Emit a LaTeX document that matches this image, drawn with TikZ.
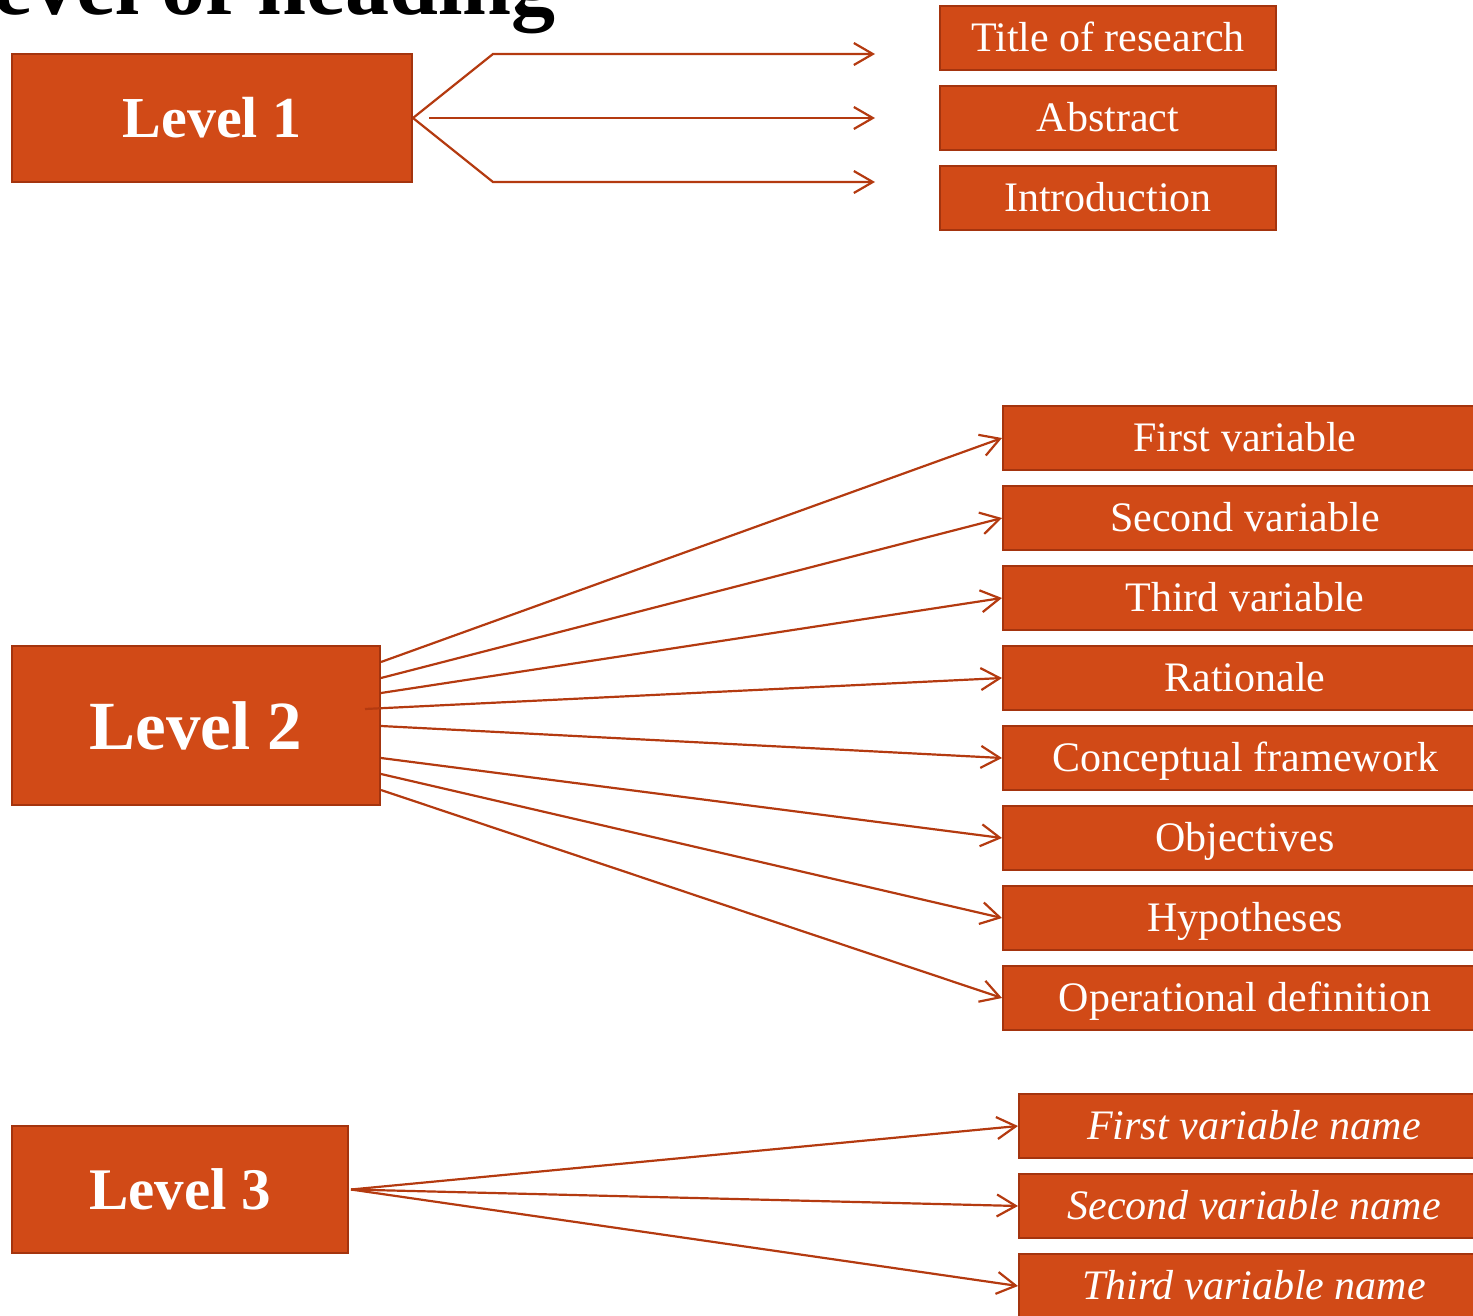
\documentclass[tikz,border=0pt]{standalone}
\usepackage{fontspec}
\setmainfont{Liberation Serif}
\usetikzlibrary{arrows.meta}

\definecolor{boxfill}{HTML}{D14A17}
\definecolor{boxedge}{HTML}{A4340E}
\definecolor{linecol}{HTML}{B43A10}

\begin{document}
\begin{tikzpicture}[x=1pt, y=-1pt,
  levelbox/.style={draw=boxedge, line width=2pt, fill=boxfill, text=white,
    font=\bfseries\fontsize{58}{60}\selectfont, inner sep=0pt},
  itembox/.style={draw=boxedge, line width=2pt, fill=boxfill, text=white,
    font=\fontsize{42}{44}\selectfont, minimum height=64pt, inner sep=0pt,
    text depth=3pt},
  arr/.style={draw=linecol, line width=2.2pt,
    -{Straight Barb[length=19pt, width=22pt, line width=2.2pt]}}]

  % Page frame
  \useasboundingbox (0,0) rectangle (1473,1316);
  \clip (0,0) rectangle (1473,1316);

  % Heading, cut at the top edge
  \node[anchor=base east, font=\bfseries\fontsize{88}{90}\selectfont] (heading) at (559,15) {Level of heading};

  % Level 1 and its items
  \node[levelbox, minimum width=400pt, minimum height=128pt] (lv1) at (212,118) {Level 1};
  \node[itembox, minimum width=336pt] (tor) at (1108,38) {Title of research};
  \node[itembox, minimum width=336pt] (abs) at (1108,118) {Abstract};
  \node[itembox, minimum width=336pt] (intro) at (1108,198) {Introduction};

  \coordinate (t1) at (875,54);
  \coordinate (t2) at (875,118);
  \coordinate (t3) at (875,182);
  \draw[arr] (lv1.east) -- ++(80,-64) -- (t1);
  \draw[arr] ([xshift=16pt]lv1.east) -- (t2);
  \draw[arr] (lv1.east) -- ++(80,64) -- (t3);

  % Level 2 and its items
  \node[levelbox, font=\bfseries\fontsize{69}{71}\selectfont, minimum width=368pt, minimum height=159pt] (lv2) at (196,725.5) {Level 2};
  \node[itembox, minimum width=484pt] (fv) at (1245,438) {First variable};
  \node[itembox, minimum width=484pt] (sv) at (1245,518) {Second variable};
  \node[itembox, minimum width=484pt] (tv) at (1245,598) {Third variable};
  \node[itembox, minimum width=484pt] (rat) at (1245,678) {Rationale};
  \node[itembox, minimum width=484pt] (cf) at (1245,758) {Conceptual framework};
  \node[itembox, minimum width=484pt] (obj) at (1245,838) {Objectives};
  \node[itembox, minimum width=484pt] (hyp) at (1245,918) {Hypotheses};
  \node[itembox, minimum width=484pt] (opd) at (1245,998) {Operational definition};

  \foreach \name/\dx/\dy in {fv/0/63.5, sv/0/47.5, tv/0/32.5, rat/-16/16.5,
                             cf/0/-0.5, obj/0/-32.5, hyp/0/-48.5, opd/0/-64.5}
    \draw[arr] ([xshift=\dx pt, yshift=\dy pt]lv2.east) -- (\name.west);

  % Level 3 and its items
  \node[levelbox, font=\bfseries\fontsize{59}{61}\selectfont, minimum width=336pt, minimum height=127pt] (lv3) at (180,1189.5) {Level 3};
  \node[itembox, font=\itshape\fontsize{42}{44}\selectfont, minimum width=470pt] (fvn) at (1254,1126) {First variable name};
  \node[itembox, font=\itshape\fontsize{42}{44}\selectfont, minimum width=470pt] (svn) at (1254,1206) {Second variable name};
  \node[itembox, font=\itshape\fontsize{42}{44}\selectfont, minimum width=470pt] (tvn) at (1254,1286) {Third variable name};

  \foreach \name in {fvn, svn, tvn}
    \draw[arr] ([xshift=2pt]lv3.east) -- (\name.west);
\end{tikzpicture}
\end{document}
